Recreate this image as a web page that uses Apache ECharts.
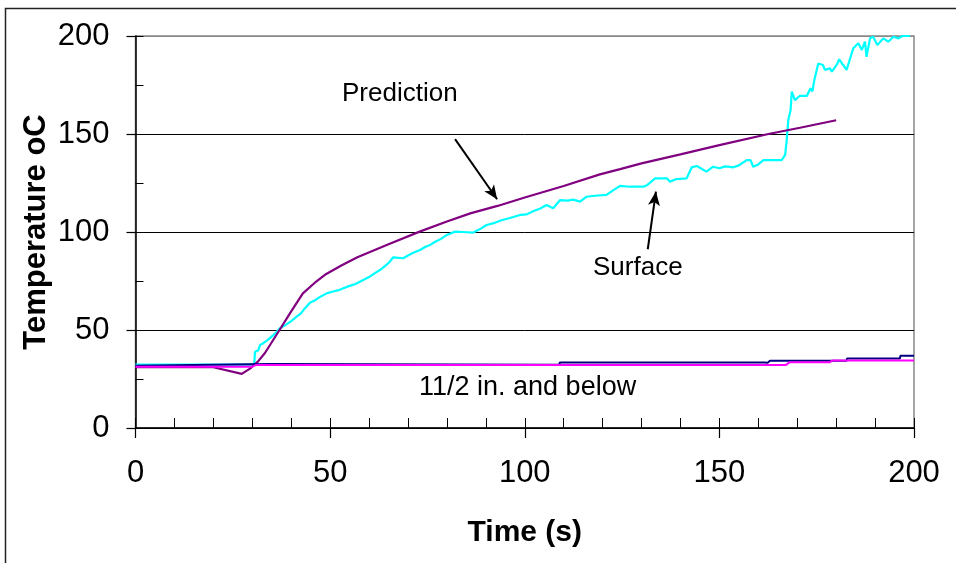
<!DOCTYPE html>
<html>
<head>
<meta charset="utf-8">
<script src="https://cdn.jsdelivr.net/npm/echarts@6/dist/echarts.min.js"></script>
<style>
  html, body { margin: 0; padding: 0; background: #fff; }
  #chart { width: 956px; height: 563px; }
</style>
</head>
<body>
<div id="chart"></div>
<script>
// Time axis ticks (s) and temperature axis ticks (oC)
const xTicks = [0, 50, 100, 150, 200];
const yTicks = [0, 50, 100, 150, 200];

// Measured surface temperature [time s, temperature oC]
const surface = [
  [0, 32.3], [30.5, 32.3], [30.7, 38.9], [31.5, 39.5], [32, 42.3], [33, 43.5], [34, 45],
  [35.4, 47.4], [36, 48.5], [37.1, 50.9], [38.5, 52.5], [40, 54.5], [41.4, 56.8], [42.5, 58.5],
  [43.5, 61], [44.8, 63.9], [46, 65], [47.5, 67], [49.1, 68.7], [50.5, 69.5], [52, 70.2],
  [53.4, 71.3], [55, 72.5], [56.5, 73.5], [58.5, 75.5], [60, 77], [61.5, 79], [62.8, 80.6],
  [64, 82.5], [65.2, 84.5], [66.2, 87.1], [68.8, 86.6], [70, 88], [71.5, 89.5], [73.1, 90.8],
  [74.5, 92.5], [75.7, 93.4], [77, 95], [78.5, 96.5], [80, 98.5], [82.1, 100.2], [84, 100],
  [86.8, 99.7], [88.5, 101.5], [90.2, 103.6], [92, 104.5], [94, 106], [96, 107], [98.8, 108.7],
  [100.5, 109], [102, 110.5], [104, 112], [105.6, 113.8], [107.3, 112.1], [109.1, 116.3],
  [111, 116], [112.5, 116.5], [114.2, 115.5], [115.9, 118], [118, 118.5], [121, 118.9],
  [122.5, 121], [124.5, 123.5], [127, 123.1], [130.5, 123.1], [131.5, 124], [133.5, 127.4],
  [136.5, 127.4], [137.3, 125.7], [139, 127], [141.6, 127.4], [142.9, 133], [144.2, 133.7],
  [146.7, 130.8], [148.4, 133.3], [150, 132.5], [151.5, 133.5], [153.6, 133], [155, 134],
  [157, 136.7], [158, 136.7], [158.7, 133.3], [160, 134.5], [161.3, 136.7], [166, 136.7],
  [166.9, 139.3], [167.3, 146.9], [167.7, 157.1], [168.3, 162.2], [168.6, 171.6], [169.4, 167.3],
  [170.7, 169.5], [172.5, 169.5], [173.4, 173.3], [173.9, 171.8], [174.4, 177.6], [175.4, 186],
  [176.6, 185.2], [177.1, 182.7], [178.4, 183.5], [178.9, 181.8], [180.2, 185.5], [180.8, 188.1],
  [181.8, 185.2], [182.7, 182.7], [183.5, 188], [184.4, 193.7], [185.7, 196.3], [186.6, 192.9],
  [187.4, 197.1], [187.8, 189.4], [188.7, 198.8], [189.5, 199.6], [190.6, 195.4], [192.1, 198.8],
  [193.4, 197.1], [194.7, 199.6], [196, 198.8], [197, 200], [199, 200]
];

// Predicted surface temperature
const prediction = [
  [0, 31], [20, 31], [27.3, 27.6], [29.5, 30.4], [31.5, 34], [33.3, 38.4], [37, 50],
  [40, 59.5], [43, 68.7], [46, 74], [49, 78.6], [53, 83], [57, 87.1], [65, 93.8], [73, 100.2],
  [80, 105.4], [86, 109.5], [93, 113.3], [100, 117.6], [110, 123.5], [119.3, 129.4],
  [124.5, 132.1], [130, 135], [140, 139.6], [150, 144.3], [162.6, 150], [170.7, 153.2], [180, 157]
];

// Depth readings at 1 1/2 in. and below
const depthA = [
  [0, 31.8], [34.5, 32.6], [36.5, 32.6], [36.6, 32.3], [108.9, 32.3], [109, 33.4], [161.5, 33.4],
  [162, 34], [162.4, 33.3], [163, 34.3], [182.7, 34.3], [182.8, 35.5], [196.4, 35.5],
  [196.5, 36.9], [200, 36.9]
];
const depthB = [
  [0, 31.3], [30, 31.3], [31, 32.2], [108.9, 32.2], [109, 32.1], [167, 32.1], [168.1, 33.6],
  [178.4, 33.6], [179, 34.4], [200, 34.4]
];

// Annotation texts (pixel anchors) and arrow endpoints in data units
const annotations = [
  { text: 'Prediction', x: 342, y: 94, size: 26 },
  { text: 'Surface', x: 593, y: 268, size: 26 },
  { text: '11/2 in. and below', x: 419, y: 388, size: 27 }
];
const predictionArrow = [[82.1, 147.4], [92.9, 116.7]];
const surfaceArrow = [[131.6, 91.2], [133.7, 120.6]];

const FONT = 'Liberation Sans, Arial, sans-serif';
const chart = echarts.init(document.getElementById('chart'));

const gridBox = { left: 135.5, right: 42, top: 36, bottom: 135 };

const arrowLine = (pts) => ({
  silent: true,
  symbol: ['none', 'arrow'],
  symbolSize: [9, 14],
  label: { show: false },
  lineStyle: { color: '#000', width: 2, type: 'solid' },
  data: [[{ coord: pts[0] }, { coord: pts[1] }]]
});

chart.setOption({
  backgroundColor: '#fff',
  animation: false,
  grid: Object.assign({ show: true, borderColor: '#888', borderWidth: 1.5, backgroundColor: 'transparent' }, gridBox),
  xAxis: [
    {
      type: 'value', min: xTicks[0], max: xTicks[xTicks.length - 1], interval: 50,
      position: 'bottom',
      name: 'Time (s)', nameLocation: 'middle', nameGap: 90,
      nameTextStyle: { fontFamily: FONT, fontSize: 30, fontWeight: 'bold', color: '#000' },
      axisLine: { show: true, onZero: false, lineStyle: { color: '#000', width: 1.5 } },
      axisTick: { show: true, inside: false, length: 10, lineStyle: { color: '#000', width: 1.2 } },
      axisLabel: { fontFamily: FONT, fontSize: 31, color: '#000', margin: 30 },
      splitLine: { show: false }
    },
    {
      type: 'value', min: 0, max: 200, interval: 10,
      position: 'bottom',
      axisLine: { show: false, onZero: false },
      axisTick: { show: true, inside: true, length: 10, lineStyle: { color: '#000', width: 1 } },
      axisLabel: { show: false },
      splitLine: { show: false }
    }
  ],
  yAxis: [
    {
      type: 'value', min: yTicks[0], max: yTicks[yTicks.length - 1], interval: 50,
      position: 'left',
      name: 'Temperature oC', nameLocation: 'middle', nameGap: 84, nameMoveOverlap: false,
      nameTextStyle: { fontFamily: FONT, fontSize: 31, fontWeight: 'bold', color: '#000' },
      axisLine: { show: true, onZero: false, lineStyle: { color: '#000', width: 1.5 } },
      axisTick: { show: true, inside: false, length: 9, lineStyle: { color: '#000', width: 1.2 } },
      axisLabel: { fontFamily: FONT, fontSize: 31, color: '#000', margin: 26 },
      splitLine: { show: true, lineStyle: { color: ['#000', '#000', '#000', '#000', '#888'], width: 1 } }
    },
    {
      type: 'value', min: 0, max: 200, interval: 25,
      position: 'left',
      axisLine: { show: false, onZero: false },
      axisTick: { show: true, inside: true, length: 8, lineStyle: { color: '#000', width: 1 } },
      axisLabel: { show: false },
      splitLine: { show: false }
    }
  ],
  series: [
    {
      name: 'Surface', type: 'line', data: surface, showSymbol: false, symbol: 'none',
      lineStyle: { color: '#00FFFF', width: 2.2 }, z: 2,
      markLine: arrowLine(surfaceArrow)
    },
    {
      name: 'Prediction', type: 'line', data: prediction, showSymbol: false, symbol: 'none',
      lineStyle: { color: '#800080', width: 2.2 }, z: 3,
      markLine: arrowLine(predictionArrow)
    },
    {
      name: 'Depth A', type: 'line', data: depthA, showSymbol: false, symbol: 'none',
      lineStyle: { color: '#000080', width: 2 }, z: 4
    },
    {
      name: 'Depth B', type: 'line', data: depthB, showSymbol: false, symbol: 'none',
      lineStyle: { color: '#FF00FF', width: 2 }, z: 5
    }
  ],
  graphic: [
    {
      type: 'rect', silent: true, z: 0,
      shape: { x: 5.5, y: 8.5, width: 1000, height: 700 },
      style: { fill: 'none', stroke: '#222', lineWidth: 1.5 }
    }
  ].concat(annotations.map(a => ({
    type: 'text', silent: true, z: 10,
    left: a.x, top: a.y - a.size / 2,
    style: { text: a.text, fontFamily: FONT, fontSize: a.size, fill: '#000' }
  })))
});
</script>
</body>
</html>
